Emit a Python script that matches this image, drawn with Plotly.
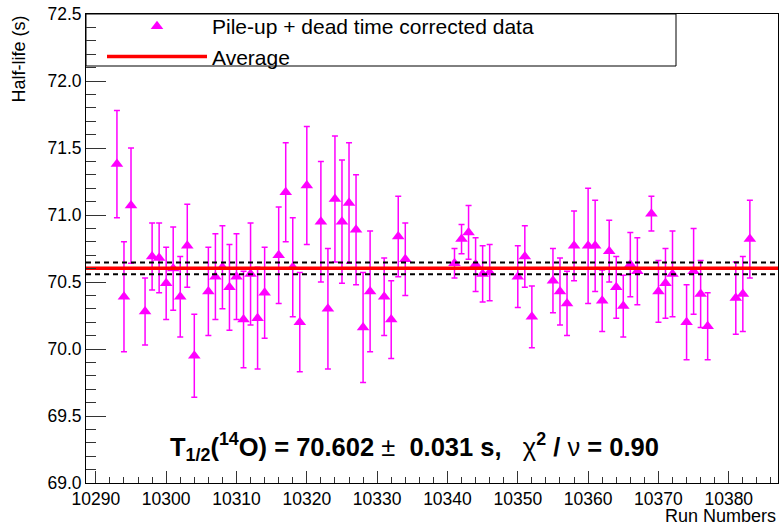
import plotly.graph_objects as go

# ---- data ----
runs = [10293, 10294, 10295, 10297, 10298, 10299, 10300, 10301, 10302, 10303, 10304,
        10306, 10307, 10308, 10309, 10310, 10311, 10312, 10313, 10314,
        10316, 10317, 10318, 10319, 10320,
        10322, 10323, 10324, 10325, 10326, 10327, 10328, 10329,
        10331, 10332, 10333, 10334,
        10341, 10342, 10343, 10344, 10345, 10346,
        10350, 10351, 10352,
        10355, 10356, 10357, 10358,
        10360, 10361, 10362, 10363, 10364, 10365, 10366, 10367,
        10369, 10370, 10371, 10372,
        10374, 10375, 10376, 10377,
        10381, 10382, 10383]
half_life = [71.38, 70.39, 71.07, 70.28, 70.69, 70.68, 70.49, 70.60, 70.39, 70.77, 69.95,
             70.43, 70.54, 70.61, 70.46, 70.54, 70.22, 70.56, 70.23, 70.42,
             70.70, 71.17, 70.61, 70.20, 71.22,
             70.95, 70.30, 71.12, 70.95, 71.09, 70.89, 70.16, 70.43,
             70.39, 70.22, 70.84, 70.67,
             70.64, 70.82, 70.87, 70.63, 70.56, 70.57,
             70.54, 70.69, 70.24,
             70.51, 70.43, 70.34, 70.77,
             70.77, 70.77, 70.36, 70.73, 70.46, 70.32, 70.63, 70.58,
             71.01, 70.43, 70.49, 70.56,
             70.20, 70.58, 70.41, 70.17,
             70.38, 70.41, 70.82]
half_life_err = [0.40, 0.41, 0.43, 0.25, 0.25, 0.26, 0.27, 0.31, 0.30, 0.31, 0.31,
                 0.33, 0.32, 0.31, 0.32, 0.32, 0.36, 0.38, 0.38, 0.34,
                 0.36, 0.37, 0.37, 0.37, 0.44,
                 0.45, 0.45, 0.47, 0.46, 0.45, 0.41, 0.41, 0.45,
                 0.29, 0.29, 0.30, 0.27,
                 0.11, 0.11, 0.20, 0.20, 0.21, 0.21,
                 0.23, 0.23, 0.23,
                 0.24, 0.25, 0.24, 0.26,
                 0.43, 0.34, 0.23, 0.23, 0.23, 0.23, 0.24, 0.25,
                 0.13, 0.23, 0.26, 0.32,
                 0.28, 0.32, 0.25, 0.25,
                 0.27, 0.28, 0.29]
average = 70.602
average_err = 0.031
band_halfwidth = 0.044   # dashed band as drawn in the picture
chi2_ndf = 0.90

x_range = [10288.6, 10387.0]
y_range = [69.0, 72.5]

FONT = "Liberation Sans, Arial, Helvetica, sans-serif"
MAGENTA = "#ff00ff"

fig = go.Figure()

fig.add_trace(go.Scatter(
    x=runs, y=half_life, mode="markers",
    name="Pile-up + dead time corrected data",
    marker=dict(symbol="triangle-up", size=11, color=MAGENTA),
    error_y=dict(type="data", array=half_life_err, visible=True,
                 color=MAGENTA, thickness=1.5, width=3),
))

for yv in (average + band_halfwidth, average - band_halfwidth):
    fig.add_trace(go.Scatter(
        x=x_range, y=[yv, yv], mode="lines", showlegend=False, hoverinfo="skip",
        line=dict(color="black", width=2, dash="5px,4px"),
    ))

fig.add_trace(go.Scatter(
    x=x_range, y=[average, average], mode="lines", name="Average",
    line=dict(color="#ff0000", width=3.5),
))

axis_common = dict(showgrid=False, zeroline=False, showline=True, mirror=True,
                   linecolor="black", linewidth=1, ticks="inside", tickcolor="#333",
                   automargin=False,
                   tickfont=dict(family=FONT, size=17.5, color="black"))

fig.update_xaxes(range=x_range, tick0=10290, dtick=10, ticklen=12, tickwidth=1,
                 tickformat="d",
                 minor=dict(ticks="inside", dtick=2, ticklen=6, tickcolor="#333"),
                 **axis_common)
fig.update_yaxes(range=y_range, tick0=69, dtick=0.5, tickformat=".1f", ticklen=20, tickwidth=1,
                 minor=dict(ticks="inside", dtick=0.1, ticklen=10, tickcolor="#333"),
                 **axis_common)

W, H = 781, 525
ml, mr, mt, mb = 86, 3, 14, 42
pw = W - ml - mr
ph = H - mt - mb

fig.update_layout(
    width=W, height=H,
    margin=dict(l=ml, r=mr, t=mt, b=mb, autoexpand=False),
    paper_bgcolor="white", plot_bgcolor="white",
    showlegend=True,
    legend=dict(x=16 / pw, y=1 + 8 / ph, xanchor="left", yanchor="top", bgcolor="rgba(0,0,0,0)",
                borderwidth=0, itemwidth=100,
                font=dict(family=FONT, size=21, color="black")),
    shapes=[dict(type="rect", xref="paper", yref="paper",
                 x0=0, x1=(676 - ml) / pw, y0=1 - (66 - mt) / ph, y1=1,
                 line=dict(color="black", width=1), fillcolor="white", layer="below")],
    annotations=[
        dict(text="Half-life (s)", textangle=-90, xref="paper", yref="paper",
             x=0, xshift=18 - ml, y=1, xanchor="center", yanchor="top", showarrow=False,
             font=dict(family=FONT, size=18, color="black")),
        dict(text="Run Numbers", xref="paper", yref="paper", x=1, y=0, yshift=-33,
             xanchor="right", yanchor="middle", showarrow=False,
             font=dict(family=FONT, size=18, color="black")),
        dict(text=("<b>T<sub>1/2</sub>(<sup>14</sup>O) = %.3f</b> ± <b> %.3f s,</b>&nbsp;&nbsp;&nbsp;"
                   "χ<b><sup>2</sup> / </b>ν<b> = %.2f</b>") % (average, average_err, chi2_ndf),
             xref="paper", yref="paper", x=(414 - ml) / pw, y=(483 - 447) / ph,
             xanchor="center", yanchor="middle", showarrow=False,
             font=dict(family=FONT, size=25.5, color="black")),
    ],
)

fig.write_html("out.html",
               config={"displayModeBar": False},
               post_script="document.body.style.margin='0';"
                           "document.documentElement.style.overflow='hidden';")
